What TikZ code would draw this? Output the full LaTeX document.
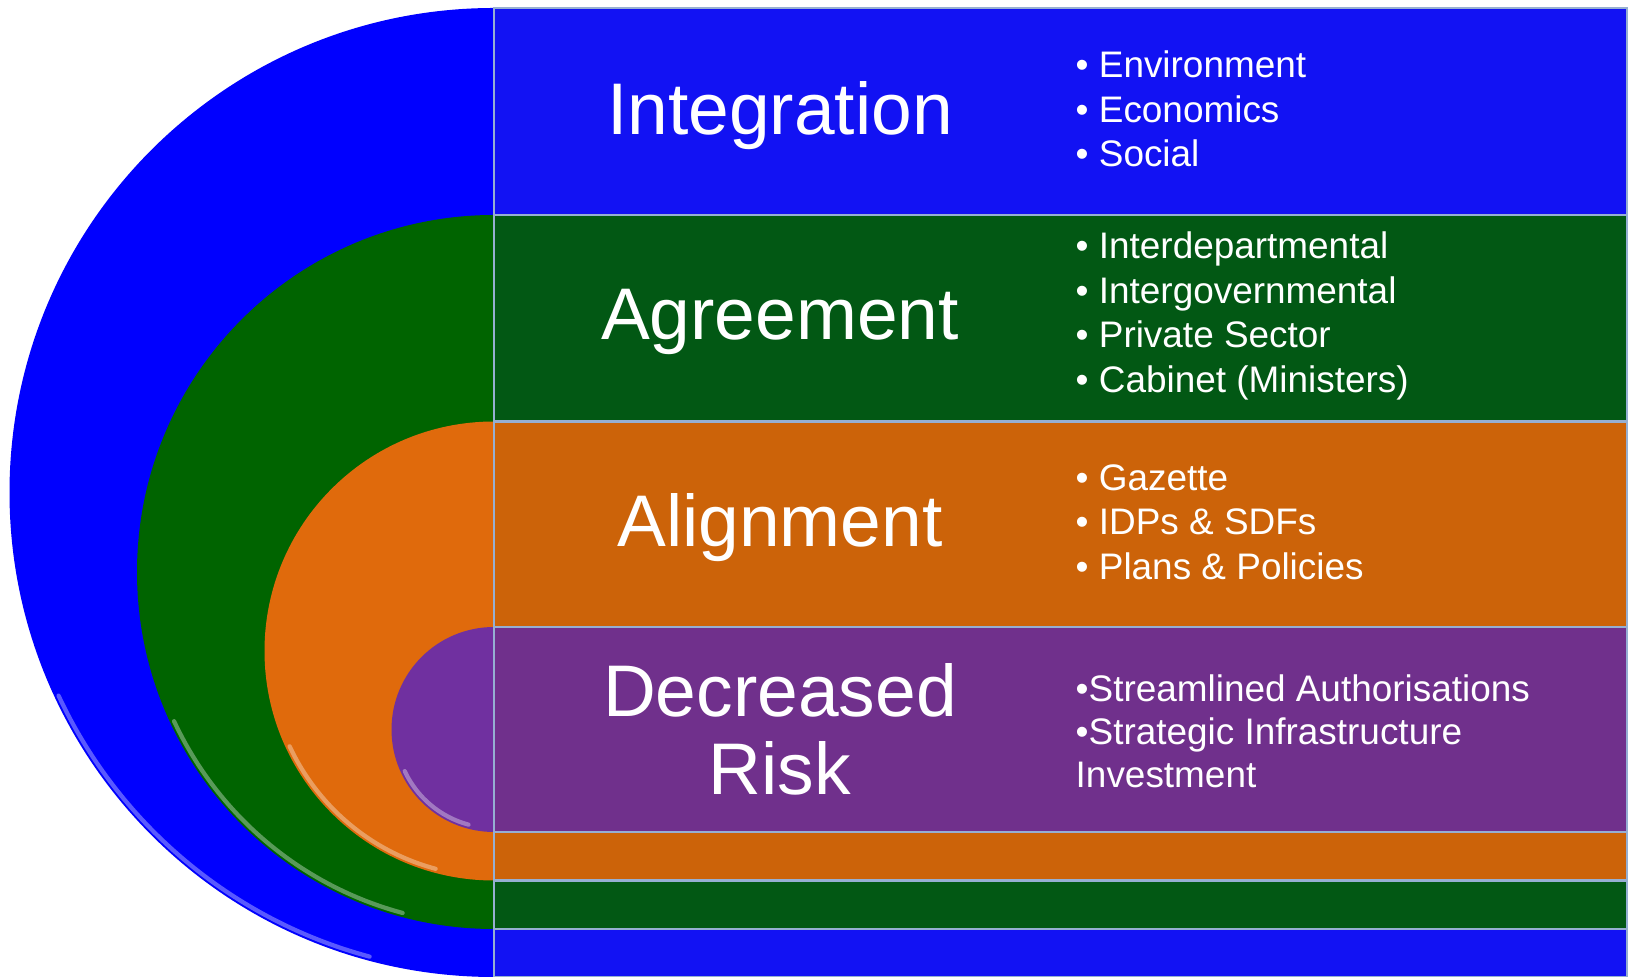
\documentclass[tikz,border=0pt]{standalone}
\usepackage{fontspec}
\setmainfont{Liberation Sans}
\usetikzlibrary{positioning}

\definecolor{intblue}{RGB}{0,0,255}
\definecolor{intbluebox}{RGB}{18,18,243}
\definecolor{agrgreen}{RGB}{0,100,0}
\definecolor{agrgreenbox}{RGB}{2,88,20}
\definecolor{aliorange}{RGB}{224,106,12}
\definecolor{aliorangebox}{RGB}{204,99,9}
\definecolor{riskpurple}{RGB}{112,48,160}
\definecolor{riskpurplebox}{RGB}{112,48,140}
\definecolor{edgeline}{RGB}{150,175,210}

\begin{document}
\begin{tikzpicture}[x=0.01cm,y=-0.01cm,
    band/.style={draw=edgeline,line width=0.6pt},
    title/.style={text=white,font=\fontsize{20.8}{22.2}\selectfont,align=center},
    items/.style={text=white,font=\fontsize{10.5}{12.7}\selectfont,align=left,anchor=west,inner sep=0pt}]
    \useasboundingbox (0,0) rectangle (1628,977);

    % === HALF DISCS AND BANDS ===
    \foreach \cy/\r/\col/\boxcol in {492.5/484.5/intblue/intbluebox,
                                     572/357/agrgreen/agrgreenbox,
                                     651/229.5/aliorange/aliorangebox,
                                     729.5/102.5/riskpurple/riskpurplebox} {
        \fill[\col] (494,{\cy-\r}) arc[start angle=-90,end angle=-270,radius=\r] -- cycle;
        % bevel light
        \draw[white,opacity=0.35,line width=1.2pt,line cap=round]
            ({494+(\r-4)*cos(-205)},{\cy+(\r-4)*sin(-205)})
            arc[start angle=-205,end angle=-255,radius={\r-4}];
        \draw[band,fill=\boxcol] (494,{\cy-\r}) rectangle (1627,{\cy+\r});
    }

    % === TITLES ===
    \node[title,anchor=base] (integration) at (780,135) {Integration};
    \node[title,anchor=base] (agreement) at (780,340) {Agreement};
    \node[title,anchor=base] (alignment) at (780,547) {Alignment};
    \node[title] (risk) at (780,729) {Decreased\\Risk};

    % === ITEMS ===
    \node[items] (intitems) at (1075,109) {\textbullet\ Environment\\\textbullet\ Economics\\\textbullet\ Social};
    \node[items] (agritems) at (1075,316) {\textbullet\ Interdepartmental\\\textbullet\ Intergovernmental\\\textbullet\ Private Sector\\\textbullet\ Cabinet (Ministers)};
    \node[items] (aliitems) at (1075,522) {\textbullet\ Gazette\\\textbullet\ IDPs \& SDFs\\\textbullet\ Plans \& Policies};
    \node[items,font=\fontsize{10.5}{12.2}\selectfont] (riskitems) at (1075,731) {\textbullet Streamlined Authorisations\\\textbullet Strategic Infrastructure\\Investment};
\end{tikzpicture}
\end{document}
